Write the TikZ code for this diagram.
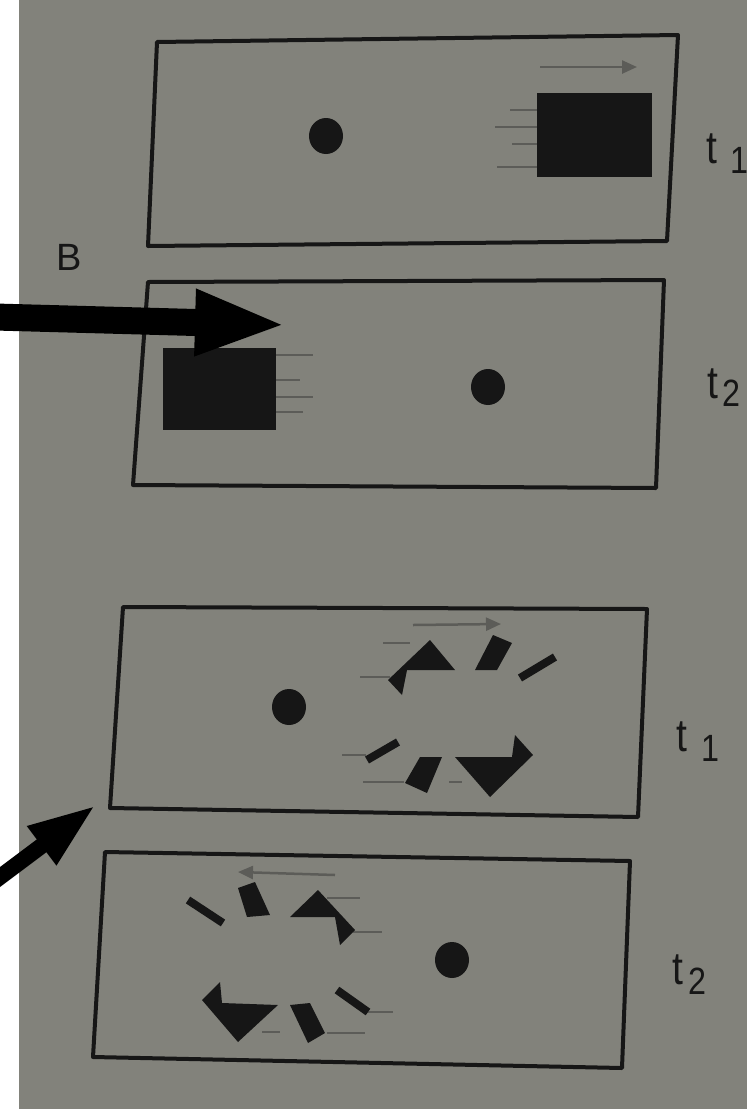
\documentclass[tikz,border=0pt]{standalone}
\usepackage{fontspec}
\setmainfont{Liberation Sans}
\usetikzlibrary{arrows.meta}
\definecolor{bgc}{RGB}{130,130,123}
\definecolor{streakc}{RGB}{92,92,88}
\definecolor{ink}{RGB}{22,22,22}
\begin{document}
\begin{tikzpicture}[x=1pt,y=-1pt,
  frame/.style={draw=ink, line width=4pt, line join=round},
  bar/.style={draw=ink, line width=8pt},
  streak/.style={draw=streakc, line width=2.5pt},
  greyarrow/.style={draw=streakc, line width=2.5pt, -{Triangle[length=15pt,width=13pt]}},
  bigarrow/.style={draw=black},
  lab/.style={inner sep=0pt, anchor=base west, text=ink, xscale=0.85, font=\fontsize{46}{46}\selectfont},
  sub/.style={inner sep=0pt, anchor=base west, text=ink, xscale=0.85, font=\fontsize{38}{38}\selectfont}]
\fill[bgc] (0,0) rectangle (747,1109);
\useasboundingbox (0,0) rectangle (747,1109);
\fill[white] (0,0) rectangle (19,1109);

% ---- box 1 (t1, solid square) ----
\draw[frame] (157,42) -- (678,35) -- (667,241) -- (148,246) -- cycle;
\fill[ink] (326,136) ellipse [x radius=17, y radius=18];
\fill[ink] (537,93) rectangle (652,177);
\draw[greyarrow] (540,67) -- (637,67);
\draw[streak] (510,110) -- (537,110);
\draw[streak] (495,127) -- (537,127);
\draw[streak] (512,144) -- (537,144);
\draw[streak] (497,167) -- (537,167);
\node[lab] (t1a) at (706,163) {t};
\node[sub] (s1a) at (730,173) {1};

\node[inner sep=0pt, anchor=base west, text=ink, font=\fontsize{38}{38}\selectfont] (B) at (56,270) {B};

% ---- box 2 (t2, solid square) ----
\draw[frame] (148,282) -- (664,280) -- (656,488) -- (133,485) -- cycle;
\fill[ink] (163,348) rectangle (276,430);
\draw[streak] (276,355) -- (313,355);
\draw[streak] (276,380) -- (300,380);
\draw[streak] (276,397) -- (313,397);
\draw[streak] (276,412) -- (303,412);
\fill[ink] (488,387) ellipse [x radius=17, y radius=18];
\node[lab] (t2a) at (707,398) {t};
\node[sub] (s2a) at (722,406) {2};

% ---- box 3 (t1, fragments) ----
\draw[frame] (123,607) -- (647,609) -- (638,817) -- (110,808) -- cycle;
\fill[ink] (289,707) ellipse [x radius=17, y radius=18];
\draw[greyarrow] (413,625) -- (501,624);
\draw[streak] (383,643) -- (410,643);
\draw[streak] (360,677) -- (390,677);
\draw[streak] (342,755) -- (366,755);
\draw[streak] (363,782) -- (404,782);
\draw[streak] (449,782) -- (462,782);
\fill[ink] (388,680) -- (430,640) -- (455,670) -- (407,670) -- (402,695) -- cycle;
\fill[ink] (493,635) -- (512,643) -- (497,670) -- (475,670) -- cycle;
\draw[bar] (520,678) -- (555,657);
\draw[bar] (367,760) -- (398,742);
\fill[ink] (420,757) -- (442,757) -- (427,793) -- (405,783) -- cycle;
\fill[ink] (455,757) -- (512,757) -- (515,735) -- (533,755) -- (490,797) -- cycle;
\node[lab] (t1b) at (676,751) {t};
\node[sub] (s1b) at (701,761) {1};

% ---- box 4 (t2, fragments) ----
\draw[frame] (105,852) -- (630,861) -- (622,1068) -- (93,1057) -- cycle;
\fill[ink] (452,960) ellipse [x radius=17, y radius=18];
\draw[greyarrow] (335,875) -- (238,872);
\draw[streak] (327,898) -- (360,898);
\draw[streak] (353,932) -- (382,932);
\draw[streak] (367,1012) -- (393,1012);
\draw[streak] (327,1033) -- (365,1033);
\draw[streak] (262,1032) -- (280,1032);
\draw[bar] (188,900) -- (223,923);
\fill[ink] (238,888) -- (255,882) -- (270,915) -- (247,917) -- cycle;
\fill[ink] (290,917) -- (318,890) -- (355,930) -- (340,945) -- (335,917) -- cycle;
\fill[ink] (202,1000) -- (220,982) -- (222,1003) -- (278,1005) -- (238,1042) -- cycle;
\fill[ink] (290,1005) -- (310,1003) -- (325,1033) -- (308,1043) -- cycle;
\draw[bar] (337,990) -- (368,1012);
\node[lab] (t2b) at (672,984) {t};
\node[sub] (s2b) at (688,994) {2};

% ---- big black arrows ----
\coordinate (a1s) at (-5,317);
\coordinate (a1e) at (287,325);
\draw[bigarrow, line width=27pt, -{Triangle[length=92pt,width=60pt]}] (a1s) -- (a1e);
\coordinate (a2s) at (-12,886);
\coordinate (a2e) at (96,805);
\draw[bigarrow, line width=16pt, -{Triangle[length=68pt,width=44pt]}] (a2s) -- (a2e);
\end{tikzpicture}
\end{document}
